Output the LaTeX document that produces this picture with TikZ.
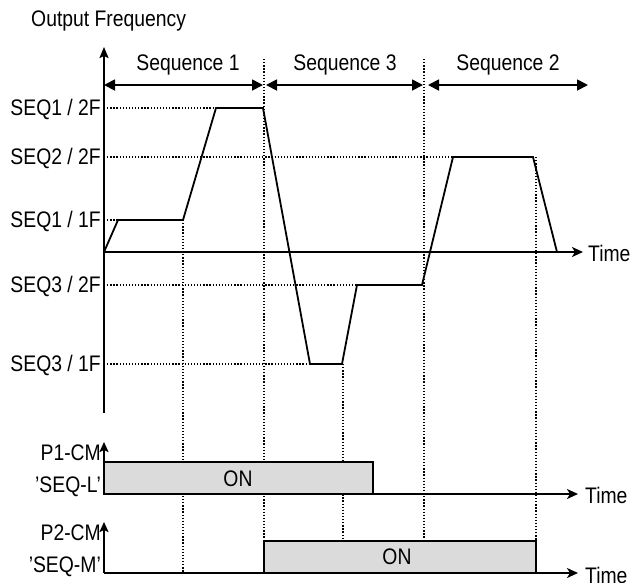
\documentclass[tikz,border=0pt]{standalone}
\usepackage{fontspec}
\setmainfont{Liberation Sans}[FakeStretch=0.86]
\usetikzlibrary{arrows.meta}
\begin{document}
\begin{tikzpicture}[x=1pt,y=-1pt,
  lbl/.style={inner sep=0pt,anchor=base east,font=\fontsize{22.5}{25}\selectfont},
  txt/.style={inner sep=0pt,font=\fontsize{22.5}{25}\selectfont},
  solidln/.style={line width=1.8pt,line join=miter},
  axis/.style={line width=1.8pt},
  dotln/.style={line width=1.3pt,dash pattern=on 1.3pt off 1.8pt},
  seqarr/.style={line width=1.8pt,{Triangle[length=11pt,width=11pt]}-{Triangle[length=11pt,width=11pt]}},
  onbox/.style={draw,line width=1.8pt,fill=black!14}]
\useasboundingbox (0,0) rectangle (641,582);
% key coordinates
\coordinate (O) at (104,252);
\coordinate (Otop) at (104,47);
\coordinate (Obot) at (104,413);
\coordinate (Tend) at (583,252);
% dotted guides (horizontal)
\coordinate (h1) at (104,108); \coordinate (h1e) at (216,108);
\coordinate (h2) at (104,157); \coordinate (h2e) at (453,157);
\coordinate (h3) at (104,220); \coordinate (h3e) at (118,220);
\coordinate (h4) at (104,285); \coordinate (h4e) at (357,285);
\coordinate (h5) at (104,364); \coordinate (h5e) at (310,364);
\draw[dotln] (h1) -- (h1e);
\draw[dotln] (h2) -- (h2e);
\draw[dotln] (h3) -- (h3e);
\draw[dotln] (h4) -- (h4e);
\draw[dotln] (h5) -- (h5e);
% dotted guides (vertical)
\coordinate (v1a) at (183,220); \coordinate (v1b) at (183,573);
\coordinate (v2a) at (264,59);  \coordinate (v2b) at (264,541);
\coordinate (v3a) at (343,364); \coordinate (v3b) at (343,541);
\coordinate (v4a) at (424,59);  \coordinate (v4b) at (424,541);
\coordinate (v5a) at (536,157); \coordinate (v5b) at (536,541);
\draw[dotln] (v1a) -- (v1b);
\draw[dotln] (v2a) -- (v2b);
\draw[dotln] (v3a) -- (v3b);
\draw[dotln] (v4a) -- (v4b);
\draw[dotln] (v5a) -- (v5b);
% axes
\draw[axis,-{Stealth[length=11pt,width=9pt,inset=2pt]}] (Obot) -- (Otop);
\draw[axis,-{Stealth[length=11pt,width=10pt,inset=3pt]}] (O) -- (Tend);
% frequency curve
\draw[solidln] (O) -- (118,220) -- (183,220) -- (216,108) -- (263,108)
  -- (310,364) -- (342,364) -- (357,285) -- (422,285) -- (453,157)
  -- (533,157) -- (557,252);
% sequence arrows
\coordinate (s1a) at (104,85); \coordinate (s1b) at (263,85);
\coordinate (s3a) at (266,85); \coordinate (s3b) at (423,85);
\coordinate (s2a) at (428,85); \coordinate (s2b) at (588,85);
\draw[seqarr] (s1a) -- (s1b);
\draw[seqarr] (s3a) -- (s3b);
\draw[seqarr] (s2a) -- (s2b);
\node[txt] (seq1) at (188,65) {Sequence 1};
\node[txt] (seq3) at (345,65) {Sequence 3};
\node[txt] (seq2) at (508,65) {Sequence 2};
\node[txt,anchor=west] (of) at (31,21) {Output Frequency};
\node[txt,anchor=west] (time1) at (588,253) {Time};
% level labels
\node[lbl] (l1) at (101,115.5) {SEQ1 / 2F};
\node[lbl] (l2) at (101,164.5) {SEQ2 / 2F};
\node[lbl] (l3) at (101,227.5) {SEQ1 / 1F};
\node[lbl] (l4) at (101,292.5) {SEQ3 / 2F};
\node[lbl] (l5) at (101,371.5) {SEQ3 / 1F};
% P1 panel
\coordinate (p1o) at (104,494);
\draw[onbox] (104,462) rectangle (373,494);
\node[txt] (on1) at (238,479) {ON};
\draw[axis,-{Stealth[length=10pt,width=9pt,inset=2pt]}] (p1o) -- (104,442);
\draw[axis,-{Stealth[length=11pt,width=10pt,inset=3pt]}] (p1o) -- (578,494);
\node[txt,anchor=west] (time2) at (585,495) {Time};
\node[lbl] (p1a) at (101,460) {P1-CM};
\node[lbl] (p1b) at (101,492) {'SEQ-L'};
% P2 panel
\coordinate (p2o) at (104,573);
\draw[onbox] (264,541) rectangle (536,573);
\node[txt] (on2) at (397,557) {ON};
\draw[axis,-{Stealth[length=10pt,width=9pt,inset=2pt]}] (p2o) -- (104,522);
\draw[axis,-{Stealth[length=11pt,width=10pt,inset=3pt]}] (p2o) -- (578,573);
\node[txt,anchor=west] (time3) at (585,575) {Time};
\node[lbl] (p2a) at (101,540) {P2-CM};
\node[lbl] (p2b) at (101,572) {'SEQ-M'};
\end{tikzpicture}
\end{document}
